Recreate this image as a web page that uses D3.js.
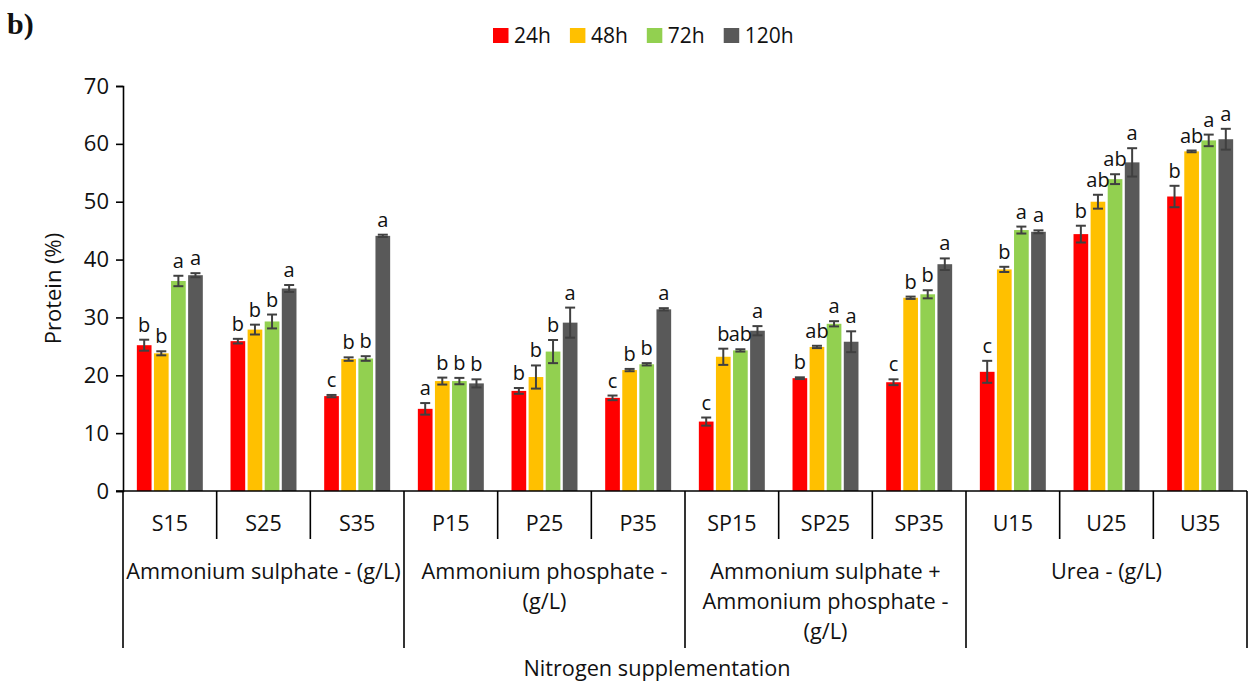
<!DOCTYPE html>
<html>
<head>
<meta charset="utf-8">
<script src="https://cdn.jsdelivr.net/npm/d3@7"></script>
<style>
  html, body { margin: 0; padding: 0; background: #fff; }
  svg { display: block; }
  text { font-family: "Open Sans", "Noto Sans", sans-serif; fill: #111; }
</style>
</head>
<body>
<svg id="chart" width="1259" height="688"></svg>
<script>
// Categories (treatment codes) and their nitrogen-source groups
const categories = ["S15", "S25", "S35", "P15", "P25", "P35", "SP15", "SP25", "SP35", "U15", "U25", "U35"];
const groupLabels = [
  ["Ammonium sulphate - (g/L)"],
  ["Ammonium phosphate -", "(g/L)"],
  ["Ammonium sulphate +", "Ammonium phosphate -", "(g/L)"],
  ["Urea - (g/L)"]
];
const groupSize = 3;

// Incubation times
const seriesNames = ["24h", "48h", "72h", "120h"];
const seriesColors = ["#FF0000", "#FFC000", "#92D050", "#595959"];

// Protein content (%) per category, one array per incubation time
const protein24 = [25.2, 25.9, 16.4, 14.2, 17.3, 16.1, 12.0, 19.5, 18.8, 20.6, 44.4, 50.9];
const protein48 = [23.8, 27.9, 22.8, 19.0, 19.7, 20.9, 23.2, 24.9, 33.4, 38.3, 50.0, 58.7];
const protein72 = [36.3, 29.3, 22.9, 19.0, 24.1, 21.9, 24.3, 28.9, 34.0, 45.1, 53.9, 60.6];
const protein120 = [37.3, 35.0, 44.1, 18.6, 29.1, 31.4, 27.7, 25.8, 39.2, 44.8, 56.8, 60.8];

// Standard deviations
const sd24 = [0.95, 0.4, 0.2, 1.0, 0.5, 0.4, 0.7, 0.15, 0.5, 1.9, 1.45, 1.85];
const sd48 = [0.35, 0.85, 0.3, 0.6, 2.0, 0.2, 1.4, 0.2, 0.2, 0.45, 1.2, 0.15];
const sd72 = [0.9, 1.2, 0.4, 0.55, 2.0, 0.2, 0.2, 0.45, 0.7, 0.6, 0.85, 1.0];
const sd120 = [0.35, 0.6, 0.2, 0.7, 2.6, 0.2, 0.8, 1.8, 1.0, 0.25, 2.45, 1.8];

// Significance letters
const sig24 = ["b", "b", "c", "a", "b", "c", "c", "b", "c", "c", "b", "b"];
const sig48 = ["b", "b", "b", "b", "b", "b", "b", "ab", "b", "b", "ab", "ab"];
const sig72 = ["a", "b", "b", "b", "b", "b", "ab", "a", "b", "a", "ab", "a"];
const sig120 = ["a", "a", "a", "b", "a", "a", "a", "a", "a", "a", "a", "a"];

const yTicks = [0, 10, 20, 30, 40, 50, 60, 70];

const valueSets = [protein24, protein48, protein72, protein120];
const sdSets = [sd24, sd48, sd72, sd120];
const sigSets = [sig24, sig48, sig72, sig120];

const rows = [];
categories.forEach((c, i) => {
  seriesNames.forEach((s, j) => {
    rows.push({ cat: c, series: s, si: j, value: valueSets[j][i], sd: sdSets[j][i], sig: sigSets[j][i] });
  });
});

const svg = d3.select("#chart");
const plotLeft = 123, plotRight = 1247, plotTop = 86, plotBottom = 491;

const x0 = d3.scaleBand().domain(categories).range([plotLeft, plotRight]).padding(0);
const x1 = d3.scaleBand().domain(seriesNames).range([0, x0.bandwidth()]).paddingInner(0).paddingOuter(0.74);
const y = d3.scaleLinear().domain([0, 70]).range([plotBottom, plotTop]);
const color = d3.scaleOrdinal().domain(seriesNames).range(seriesColors);

// Panel tag
svg.append("text").attr("x", 7).attr("y", 34)
  .style("font-family", "'Liberation Serif', 'DejaVu Serif', serif")
  .style("font-weight", "bold").style("font-size", "30px").text("b)");

// Y axis
const yAxis = d3.axisLeft(y).tickValues(yTicks).tickSize(7).tickPadding(7);
const yg = svg.append("g").attr("transform", `translate(${plotLeft},0)`).call(yAxis);
yg.select(".domain").attr("stroke", "#000").attr("stroke-width", 1.6);
yg.selectAll(".tick line").attr("stroke", "#000").attr("stroke-width", 1.6);
yg.selectAll(".tick text").style("font-size", "22px").style("font-family", "'Open Sans', sans-serif").attr("fill", "#111");

svg.append("text")
  .attr("transform", `translate(61,${(plotTop + plotBottom) / 2}) rotate(-90)`)
  .attr("text-anchor", "middle")
  .style("font-size", "22px")
  .text("Protein (%)");

// Bars
const gap = 1.2;
const barG = svg.append("g");
barG.selectAll("rect").data(rows).join("rect")
  .attr("x", d => x0(d.cat) + x1(d.series) + gap)
  .attr("width", x1.bandwidth() - 2 * gap)
  .attr("y", d => y(d.value))
  .attr("height", d => y(0) - y(d.value))
  .attr("fill", d => color(d.series));

// Error bars
const errG = svg.append("g").attr("stroke", "#404040").attr("stroke-width", 2);
const cap = 5;
rows.forEach(d => {
  const cx = x0(d.cat) + x1(d.series) + x1.bandwidth() / 2;
  const y1 = y(d.value + d.sd), y2 = y(d.value - d.sd);
  errG.append("line").attr("x1", cx).attr("x2", cx).attr("y1", y1).attr("y2", y2);
  errG.append("line").attr("x1", cx - cap).attr("x2", cx + cap).attr("y1", y1).attr("y2", y1);
  errG.append("line").attr("x1", cx - cap).attr("x2", cx + cap).attr("y1", y2).attr("y2", y2);
});

// Significance letters
svg.append("g").selectAll("text").data(rows).join("text")
  .attr("x", d => x0(d.cat) + x1(d.series) + x1.bandwidth() / 2)
  .attr("y", d => y(d.value + d.sd) - 8)
  .attr("text-anchor", "middle")
  .style("font-size", "20px")
  .text(d => d.sig);

// Category axis: baseline, cell dividers and labels
const axG = svg.append("g").attr("stroke", "#000").attr("stroke-width", 1.6);
axG.append("line").attr("x1", plotLeft - 7).attr("x2", plotRight).attr("y1", plotBottom).attr("y2", plotBottom);
const boundaries = categories.map(c => x0(c)).concat([plotRight]);
boundaries.forEach((bx, i) => {
  const isGroupEdge = i % groupSize === 0;
  axG.append("line").attr("x1", bx).attr("x2", bx)
    .attr("y1", plotBottom).attr("y2", isGroupEdge ? 648 : 539);
});

svg.append("g").selectAll("text").data(categories).join("text")
  .attr("x", c => x0(c) + x0.bandwidth() / 2)
  .attr("y", 531)
  .attr("text-anchor", "middle")
  .style("font-size", "21.5px")
  .text(c => c);

groupLabels.forEach((lines, gi) => {
  const gx0 = x0(categories[gi * groupSize]);
  const gx1 = gi * groupSize + groupSize < categories.length ? x0(categories[gi * groupSize + groupSize]) : plotRight;
  const t = svg.append("text").attr("text-anchor", "middle").style("font-size", "21.7px");
  lines.forEach((ln, li) => {
    t.append("tspan").attr("x", (gx0 + gx1) / 2).attr("y", 579 + li * 30).text(ln);
  });
});

svg.append("text").attr("x", 657).attr("y", 676).attr("text-anchor", "middle")
  .style("font-size", "21.7px").text("Nitrogen supplementation");

// Legend
const legend = svg.append("g");
let lx = 493;
seriesNames.forEach((s, i) => {
  legend.append("rect").attr("x", lx).attr("y", 28).attr("width", 15.5).attr("height", 15).attr("fill", seriesColors[i]);
  const t = legend.append("text").attr("x", lx + 21).attr("y", 43).style("font-size", "21px").text(s);
  lx += 21 + t.node().getComputedTextLength() + 19;
});
</script>
</body>
</html>
